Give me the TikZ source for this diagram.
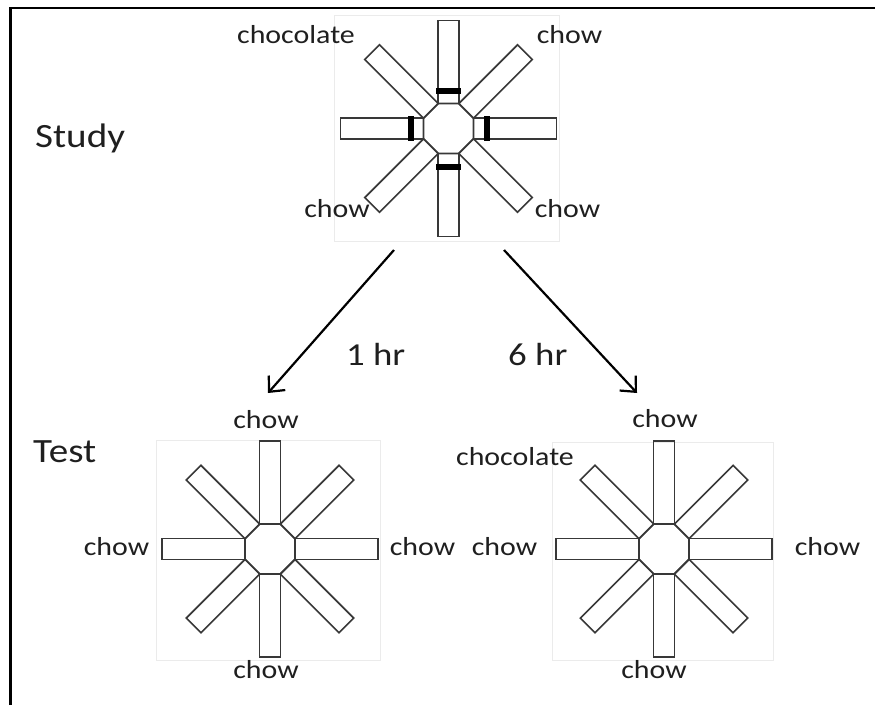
\documentclass[tikz,border=0pt]{standalone}
\usepackage{fontspec}
\setmainfont{Carlito}[FakeStretch=1.15]
\usetikzlibrary{arrows.meta}
\tikzset{
  armline/.style={draw=black!78, line width=1.6pt},
  lab/.style={inner sep=0pt, anchor=base, font=\fontsize{26}{30}\selectfont, text=black!88},
  biglab/.style={inner sep=0pt, anchor=base west, font=\fontsize{34}{40}\selectfont, text=black!88},
  faint/.style={draw=black!8, line width=0.8pt},
  flow/.style={line width=2.2pt, -{Straight Barb[length=12pt,width=22pt,line width=2.2pt]}},
  frame/.style={line width=2.6pt},
  maze/.pic={
    \foreach \a in {0,45,...,315}{
      \draw[armline, rotate=\a] (25,-10.35) rectangle (108,10.35);
    }
    \draw[armline] (22.5:27.06) -- (67.5:27.06) -- (112.5:27.06) -- (157.5:27.06)
      -- (202.5:27.06) -- (247.5:27.06) -- (292.5:27.06) -- (337.5:27.06) -- cycle;
  },
  barset/.pic={
    \foreach \a in {0,90,180,270}{
      \fill[black, rotate=\a] (35,-12.5) rectangle (41,12.5);
    }
  }
}
\begin{document}
\begin{tikzpicture}[x=1pt,y=-1pt]
\useasboundingbox (0,0) rectangle (875,705);
% frame
\draw[frame] (10.5,705) -- (10.5,8) -- (875,8);
% faint image boxes
\draw[faint] (334,15) rectangle (559,241);
\draw[faint] (156,440) rectangle (380,660);
\draw[faint] (552,442) rectangle (773,660);
% mazes
\pic (study) at (448.5,128.5) {maze};
\pic (studybars) at (448.5,128.5) {barset};
\pic (testA) at (270,549) {maze};
\pic (testB) at (664,549) {maze};
% labels
\node[biglab] (studylab) at (35,147) {Study};
\node[biglab] (testlab) at (33,462) {Test};
\node[lab] (s1) at (296,43) {chocolate};
\node[lab] (s2) at (569.5,43) {chow};
\node[lab] (s3) at (337,217) {chow};
\node[lab] (s4) at (567.5,217) {chow};
\node[lab] (a1) at (266,428) {chow};
\node[lab] (a2) at (266,678) {chow};
\node[lab] (a3) at (116.5,555) {chow};
\node[lab] (a4) at (422.5,555) {chow};
\node[lab] (b1) at (665,427) {chow};
\node[lab] (b2) at (515,465) {chocolate};
\node[lab] (b3) at (504.5,555) {chow};
\node[lab] (b4) at (827.5,555) {chow};
\node[lab] (b5) at (654,678) {chow};
\node[biglab, font=\fontsize{32}{38}\selectfont] (h1) at (346,365) {1 hr};
\node[biglab, font=\fontsize{32}{38}\selectfont] (h6) at (508,365) {6 hr};
% arrows
\coordinate (l0) at (394,250);
\coordinate (l1) at (268,393);
\coordinate (r0) at (504,250);
\coordinate (r1) at (637,393);
\draw[flow] (l0) -- (l1);
\draw[flow] (r0) -- (r1);
\end{tikzpicture}
\end{document}
